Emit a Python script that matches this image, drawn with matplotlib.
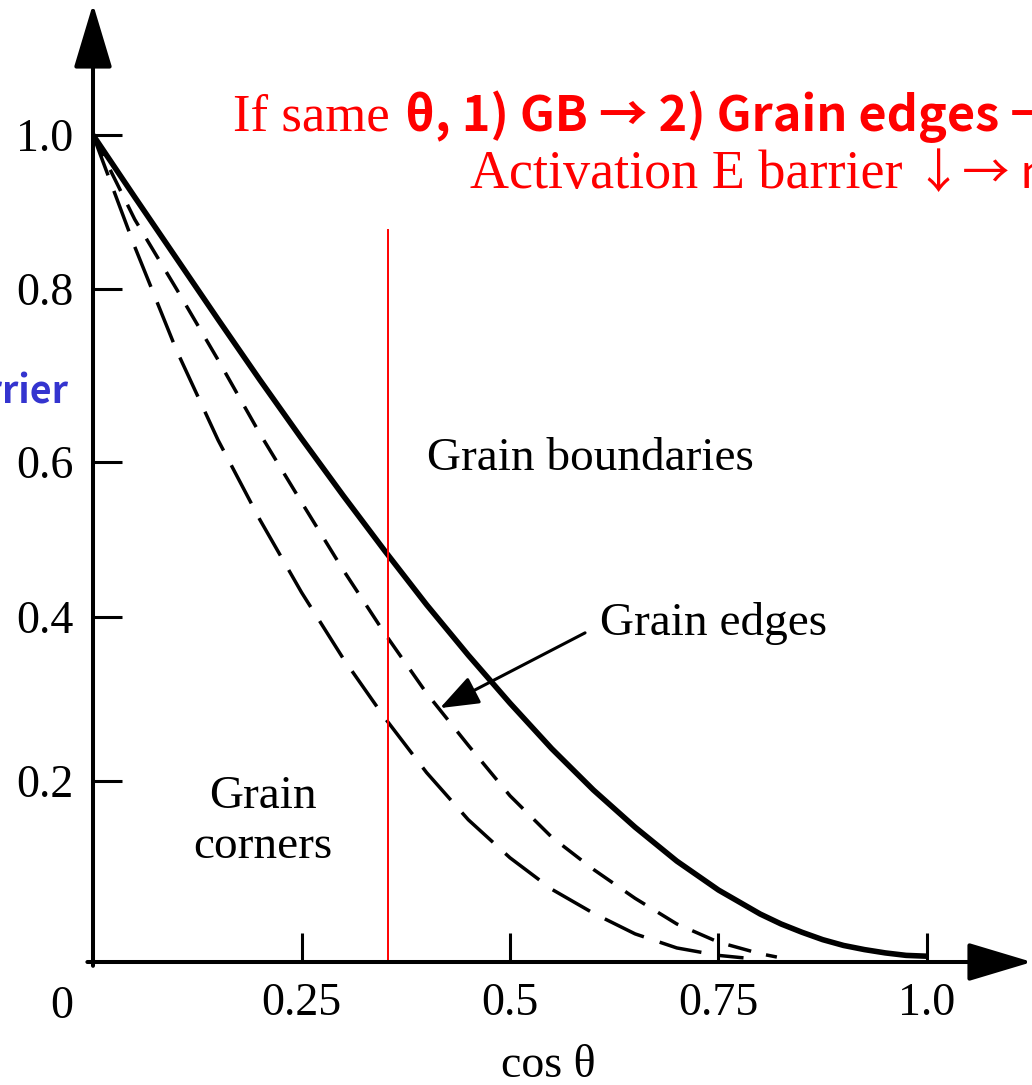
import matplotlib
matplotlib.use("Agg")
import matplotlib.pyplot as plt

# cos(theta) grids and barrier values
cos_gb = [0.0, 0.05, 0.1, 0.15, 0.2, 0.25, 0.3, 0.35, 0.4, 0.45, 0.5,
          0.55, 0.6, 0.65, 0.7, 0.75, 0.8, 0.825, 0.85, 0.875, 0.9,
          0.925, 0.95, 0.975, 1.0]
gb_barrier = [1.0, 0.925, 0.851, 0.777, 0.704, 0.633, 0.564, 0.497, 0.432, 0.371, 0.313,
              0.258, 0.208, 0.163, 0.122, 0.087, 0.058, 0.046, 0.036, 0.027, 0.020,
              0.015, 0.011, 0.008, 0.007]

cos_edge = [0.0, 0.05, 0.1, 0.15, 0.2, 0.25, 0.3, 0.35, 0.4, 0.45, 0.5,
            0.55, 0.6, 0.65, 0.7, 0.75, 0.8, 0.82]
edge_barrier = [1.0, 0.898, 0.814, 0.728, 0.639, 0.556, 0.474, 0.397, 0.325, 0.262, 0.201,
                0.151, 0.112, 0.077, 0.046, 0.024, 0.010, 0.006]

cos_corner = [0.0, 0.05, 0.1, 0.15, 0.2, 0.25, 0.3, 0.35, 0.4, 0.45, 0.5,
              0.55, 0.6, 0.65, 0.7, 0.75, 0.78]
corner_barrier = [1.0, 0.865, 0.740, 0.631, 0.535, 0.447, 0.367, 0.295, 0.229, 0.172, 0.126,
                  0.088, 0.059, 0.034, 0.017, 0.008, 0.005]

x_ticks = [0.25, 0.5, 0.75, 1.0]
x_labels = ["0.25", "0.5", "0.75", "1.0"]
y_ticks = [0.219, 0.417, 0.605, 0.814, 1.0]
y_labels = ["0.2", "0.4", "0.6", "0.8", "1.0"]

red_cos = 0.354

plt.rcParams['font.family'] = ['Liberation Serif', 'DejaVu Serif']
plt.rcParams['lines.scale_dashes'] = False

W, H = 1032, 1085


def px(x, y):
    return x / W, 1 - y / H


fig = plt.figure(figsize=(W / 100, H / 100), dpi=100)
ax = fig.add_axes([93 / W, (H - 962) / H, (W - 93) / W, (962 - 4) / H])
ax.set_xlim(0, (W - 93) / 834)
ax.set_ylim(0, (962 - 4) / 827)
for s in ax.spines.values():
    s.set_visible(False)
ax.patch.set_alpha(0)

# axes with arrowheads
arrow_kw = dict(arrowstyle='-|>,head_length=2.0,head_width=0.6', color='black',
                lw=2.9, mutation_scale=20, shrinkA=0, shrinkB=0)
ax.annotate('', xy=(0, 1), xytext=(0, -0.004), xycoords='axes fraction',
            arrowprops=arrow_kw, annotation_clip=False)
ax.annotate('', xy=(1.0, 0), xytext=(-0.006, 0), xycoords='axes fraction',
            arrowprops=arrow_kw, annotation_clip=False)

ax.plot(cos_gb, gb_barrier, color='black', lw=4.0, solid_capstyle='butt',
        solid_joinstyle='round')
ax.plot(cos_edge, edge_barrier, color='black', lw=2.5, dashes=(17, 11), dash_capstyle='butt')
ax.plot(cos_corner, corner_barrier, color='black', lw=2.5, dashes=(31, 12), dash_capstyle='butt')

ax.plot([red_cos, red_cos], [0, 0.885], color='red', lw=1.4)

ax.set_xticks(x_ticks)
ax.set_xticklabels(x_labels)
ax.set_yticks(y_ticks)
ax.set_yticklabels(y_labels)
ax.tick_params(axis='both', direction='in', length=21, width=2.2, labelsize=33)
ax.tick_params(axis='x', pad=15)
ax.tick_params(axis='y', pad=14)

ax.annotate('', xy=(0.416, 0.307), xytext=(0.590, 0.398),
            arrowprops=dict(arrowstyle='-|>,head_length=1.2,head_width=0.45', color='black',
                            lw=2.2, mutation_scale=20, shrinkA=0, shrinkB=0))

fig.text(*px(62, 1018), "0", fontsize=33, ha='center', va='baseline')
fig.text(*px(590, 470), "Grain boundaries", fontsize=34, ha='center', va='baseline')
fig.text(*px(714, 635), "Grain edges", fontsize=34, ha='center', va='baseline')
fig.text(*px(263, 808), "Grain", fontsize=34, ha='center', va='baseline')
fig.text(*px(263, 858), "corners", fontsize=34, ha='center', va='baseline')
fig.text(*px(548, 1077), "cos θ", fontsize=33, ha='center', va='baseline')

# red note (cut off at the right edge)
fig.text(*px(233, 131), "If same", fontsize=38, color='red', ha='left', va='baseline')
fig.text(*px(405, 131), "θ, 1) GB → 2) Grain edges → 3) Grain corners", fontsize=35,
         color='red', fontweight='bold', ha='left', va='baseline',
         family=['Noto Sans CJK KR', 'DejaVu Sans'])
fig.text(*px(470, 188), "Activation E barrier", fontsize=39, color='red',
         ha='left', va='baseline')
fig.text(*px(915, 188), "↓→ nucleation rate ↑", fontsize=34, color='red',
         ha='left', va='baseline', family=['Noto Sans CJK KR', 'DejaVu Sans'])

# cut-off blue y label
fig.text(*px(68, 403), "Activation E barrier", fontsize=27, color='#3434cf',
         fontweight='bold', ha='right', va='baseline',
         family=['Noto Sans CJK KR', 'DejaVu Sans'])

fig.savefig('out.png', dpi=100)
